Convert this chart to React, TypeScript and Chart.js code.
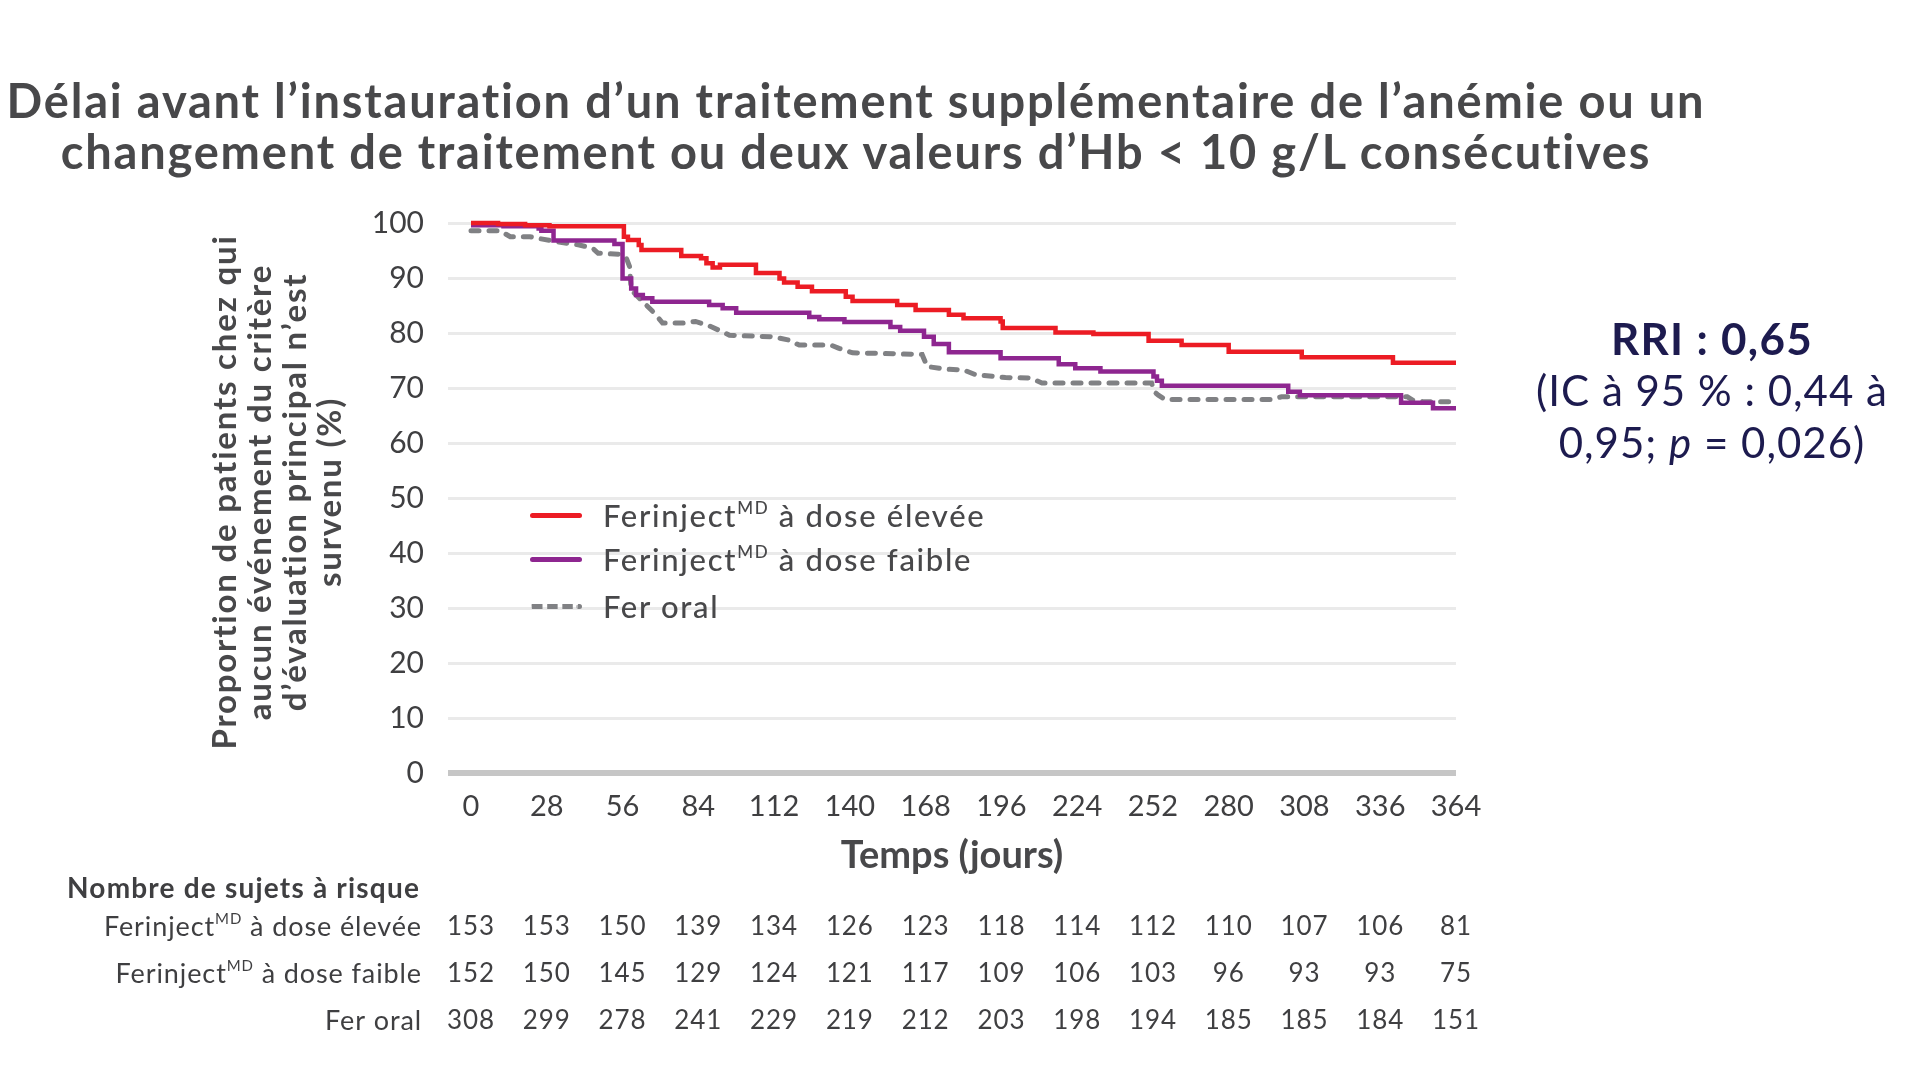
import React, { useEffect, useRef } from 'react';
import { Chart, registerables } from 'chart.js';

Chart.register(...registerables);

// ---------- data ----------
const tickDays = [0, 28, 56, 84, 112, 140, 168, 196, 224, 252, 280, 308, 336, 364];

const highDays = [0, 10, 20, 29, 56.5, 58, 62, 63, 77.7, 85, 87, 89.3, 92, 105.3, 114, 115.7, 120.7, 126, 138.5, 141, 157.5, 164.3, 176.6, 182, 195.7, 196.5, 216, 230, 250.4, 262.6, 280, 307, 340.7, 364];
const highVals = [100, 99.8, 99.6, 99.4, 97.5, 96.9, 96.0, 95.1, 94.0, 93.6, 92.7, 91.9, 92.4, 90.9, 89.9, 89.2, 88.4, 87.6, 86.6, 85.8, 85.1, 84.2, 83.3, 82.7, 82.1, 80.9, 80.1, 79.8, 78.6, 77.8, 76.6, 75.6, 74.6, 74.6];

const lowDays = [0, 12, 25, 26, 30.5, 53, 56, 59.2, 61, 63.5, 67, 88, 93, 98, 125, 128.7, 138, 155, 158.6, 167.4, 171, 176.6, 195.7, 217.2, 223.3, 232.6, 252.2, 253.5, 255.3, 302, 306.3, 343.7, 355.5, 364];
const lowVals = [99.6, 99.4, 99.0, 98.6, 96.8, 96.2, 89.9, 88.1, 86.9, 86.3, 85.7, 85.1, 84.5, 83.7, 82.9, 82.5, 82.0, 81.1, 80.4, 79.3, 78.0, 76.5, 75.4, 74.3, 73.6, 73.0, 72.1, 71.3, 70.4, 69.3, 68.7, 67.3, 66.3, 66.3];

const oralDays = [0, 10.7, 14.5, 21.8, 25, 31.6, 40, 45, 47, 55.6, 57.5, 58.6, 59.2, 63.5, 67.8, 70.8, 78, 83, 88, 93, 95.5, 111.5, 117.6, 121.3, 133, 136, 141, 166.7, 168.6, 176, 182, 186.5, 197.5, 207, 211, 251.5, 252.5, 254, 256.5, 295.7, 299.5, 346, 348, 352, 364];
const oralVals = [98.6, 98.6, 97.5, 97.5, 97.2, 96.6, 96.0, 95.4, 94.5, 94.3, 93.5, 92.1, 87.8, 85.7, 83.6, 81.8, 81.8, 82.1, 81.3, 80.2, 79.6, 79.3, 78.7, 77.8, 77.8, 77.2, 76.4, 76.1, 73.9, 73.4, 73.3, 72.4, 71.9, 71.8, 70.9, 70.9, 69.3, 68.7, 67.9, 67.9, 68.4, 68.4, 67.8, 67.5, 67.5];

const atRiskHigh = [153, 153, 150, 139, 134, 126, 123, 118, 114, 112, 110, 107, 106, 81];
const atRiskLow = [152, 150, 145, 129, 124, 121, 117, 109, 106, 103, 96, 93, 93, 75];
const atRiskOral = [308, 299, 278, 241, 229, 219, 212, 203, 198, 194, 185, 185, 184, 151];

const seriesNames = ['Ferinject', 'Ferinject', 'Fer oral'];

// ---------- styles ----------
const FONT = 'Lato, "Open Sans", "DejaVu Sans", sans-serif';
const TEXT = '#48484a';
const RED = '#ec1c24';
const PURPLE = '#8e2690';
const GRAY = '#808184';
const NAVY = '#1d1b4f';

const zip = (xs: number[], ys: number[]) => xs.map((x, i) => ({ x, y: ys[i] }));

type Part = { t: string; sup?: boolean };

function drawParts(ctx: CanvasRenderingContext2D, parts: Part[], rightX: number, y: number, font: string, supFont: string) {
  ctx.save();
  ctx.textBaseline = 'middle';
  ctx.textAlign = 'left';
  const widths = parts.map(p => {
    ctx.font = p.sup ? supFont : font;
    return ctx.measureText(p.t).width;
  });
  const total = widths.reduce((a, b) => a + b, 0);
  let x = rightX - total;
  parts.forEach((p, i) => {
    ctx.font = p.sup ? supFont : font;
    ctx.fillText(p.t, x, p.sup ? y - 8 : y);
    x += widths[i];
  });
  ctx.restore();
}

const atRiskPlugin = {
  id: 'atRisk',
  afterDraw(chart: any) {
    const ctx: any = chart.ctx;
    const xs = chart.scales.x;
    ctx.save();
    ctx.fillStyle = '#3f3f41';
    ctx.letterSpacing = '1.2px';
    ctx.font = `bold 28px ${FONT}`;
    ctx.textBaseline = 'middle';
    ctx.textAlign = 'left';
    ctx.fillText('Nombre de sujets à risque', 67, 889);
    ctx.letterSpacing = '0.9px';
    const font = `27px ${FONT}`;
    const supFont = `15px ${FONT}`;
    const rows: { parts: Part[]; vals: number[]; y: number }[] = [
      { parts: [{ t: seriesNames[0] }, { t: 'MD', sup: true }, { t: ' à dose élevée' }], vals: atRiskHigh, y: 927 },
      { parts: [{ t: seriesNames[1] }, { t: 'MD', sup: true }, { t: ' à dose faible' }], vals: atRiskLow, y: 974 },
      { parts: [{ t: seriesNames[2] }], vals: atRiskOral, y: 1021 },
    ];
    rows.forEach(r => {
      drawParts(ctx, r.parts, 422, r.y, font, supFont);
      ctx.font = `26px ${FONT}`;
      ctx.textAlign = 'center';
      ctx.textBaseline = 'middle';
      r.vals.forEach((v, i) => {
        ctx.fillText(String(v), xs.getPixelForValue(tickDays[i]), r.y);
      });
    });
    ctx.restore();
  },
};

export default function App() {
  const ref = useRef<HTMLCanvasElement>(null);

  useEffect(() => {
    document.body.style.overflow = 'hidden';
    const chart = new Chart(ref.current!, {
      type: 'line',
      data: {
        datasets: [
          {
            label: 'Ferinject à dose élevée',
            data: zip(highDays, highVals),
            borderColor: RED,
            borderWidth: 4.5,
            stepped: 'before',
            pointRadius: 0,
            fill: false,
            clip: false as any,
          },
          {
            label: 'Ferinject à dose faible',
            data: zip(lowDays, lowVals),
            borderColor: PURPLE,
            borderWidth: 4.5,
            stepped: 'before',
            pointRadius: 0,
            fill: false,
            clip: false as any,
          },
          {
            label: 'Fer oral',
            data: zip(oralDays, oralVals),
            borderColor: GRAY,
            borderWidth: 5,
            borderDash: [8, 10],
            borderCapStyle: 'round',
            pointRadius: 0,
            tension: 0,
            fill: false,
            clip: false as any,
          },
        ],
      },
      options: {
        animation: false,
        responsive: false,
        maintainAspectRatio: false,
        layout: { padding: { left: 0, top: 223, right: 452, bottom: 203 } },
        plugins: {
          legend: { display: false },
          tooltip: { enabled: false },
          title: { display: false },
        },
        scales: {
          x: {
            type: 'linear',
            min: -8.5,
            max: 364,
            afterBuildTicks: (s: any) => {
              s.ticks = tickDays.map(v => ({ value: v }));
            },
            afterFit: (s: any) => {
              s.height = 106;
            },
            grid: { display: false, drawTicks: false },
            border: { display: false },
            ticks: {
              autoSkip: false,
              maxRotation: 0,
              padding: 16,
              color: '#3f3f41',
              font: { family: FONT, size: 29 },
            },
            title: {
              display: true,
              text: 'Temps (jours)',
              color: TEXT,
              padding: 0,
              font: { family: FONT, size: 38, weight: 'bold' },
            },
          },
          y: {
            min: 0,
            max: 100,
            afterFit: (s: any) => {
              s.width = 448;
            },
            ticks: {
              stepSize: 10,
              padding: 24,
              color: '#3f3f41',
              font: { family: FONT, size: 30 },
            },
            grid: {
              drawTicks: false,
              color: (c: any) => (c.tick && c.tick.value === 0 ? '#c6c6c6' : '#eaeaea'),
              lineWidth: (c: any) => (c.tick && c.tick.value === 0 ? 6 : 3),
            },
            border: { display: false },
          },
        },
      },
      plugins: [atRiskPlugin],
    });
    return () => chart.destroy();
  }, []);

  const legendItems = [
    { label: 'Ferinject', sup: 'MD', rest: ' à dose élevée', color: RED, dashed: false, y: 515 },
    { label: 'Ferinject', sup: 'MD', rest: ' à dose faible', color: PURPLE, dashed: false, y: 559 },
    { label: 'Fer oral', sup: '', rest: '', color: GRAY, dashed: true, y: 606 },
  ];

  return (
    <div style={{ position: 'absolute', left: 0, top: 0, width: 1908, height: 1082, background: '#fff', overflow: 'hidden', fontFamily: FONT }}>
      <canvas ref={ref} width={1908} height={1082} style={{ position: 'absolute', left: 0, top: 0, width: 1908, height: 1082 }} />
      <div style={{ position: 'absolute', left: -50, top: 75, width: 1812, textAlign: 'center', fontSize: 47, lineHeight: '51px', fontWeight: 'bold', letterSpacing: 1.8, color: TEXT, whiteSpace: 'nowrap' }}>
        Délai avant l’instauration d’un traitement supplémentaire de l’anémie ou un
        <br />
        changement de traitement ou deux valeurs d’Hb &lt; 10 g/L consécutives
      </div>
      <div style={{ position: 'absolute', left: 278 - 330, top: 492 - 72, width: 660, height: 144, transform: 'rotate(-90deg)', textAlign: 'center', fontSize: 33, lineHeight: '35px', fontWeight: 'bold', letterSpacing: 1.8, color: TEXT, whiteSpace: 'nowrap' }}>
        Proportion de patients chez qui
        <br />
        aucun événement du critère
        <br />
        d’évaluation principal n’est
        <br />
        survenu (%)
      </div>
      {legendItems.map((it, i) => (
        <React.Fragment key={i}>
          <div style={{ position: 'absolute', left: 530, top: it.y - 2.5, width: 52, height: 0, borderTop: `5px ${it.dashed ? 'dashed' : 'solid'} ${it.color}`, borderRadius: 3 }} />
          <div style={{ position: 'absolute', left: 603, top: it.y - 21, height: 42, lineHeight: '42px', fontSize: 31, letterSpacing: 1.7, color: TEXT, whiteSpace: 'nowrap', fontWeight: 500 }}>
            {it.label}
            {it.sup ? <sup style={{ fontSize: 17, verticalAlign: 'top', lineHeight: '28px' }}>{it.sup}</sup> : null}
            {it.rest}
          </div>
        </React.Fragment>
      ))}
      <div style={{ position: 'absolute', left: 1712 - 250, top: 312, width: 500, textAlign: 'center', color: NAVY, lineHeight: '52px', whiteSpace: 'nowrap' }}>
        <div style={{ fontSize: 44, fontWeight: 'bold', letterSpacing: 1.3 }}>RRI : 0,65</div>
        <div style={{ fontSize: 42, letterSpacing: 1 }}>(IC à 95 % : 0,44 à</div>
        <div style={{ fontSize: 42, letterSpacing: 1 }}>
          0,95; <i>p</i> = 0,026)
        </div>
      </div>
    </div>
  );
}
